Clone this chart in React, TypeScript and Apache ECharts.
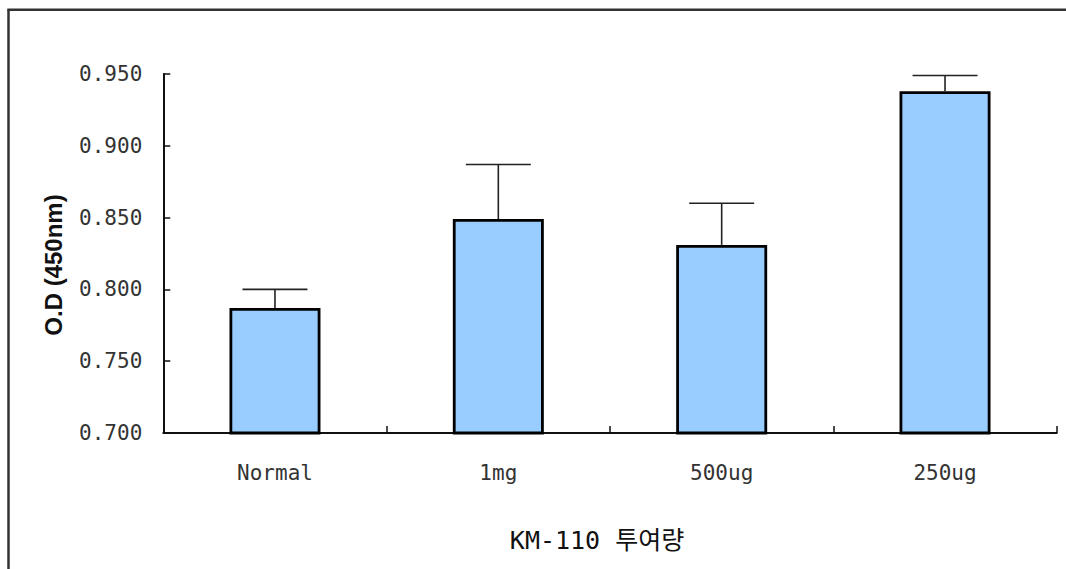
import React, { useEffect, useRef } from "react";
import * as echarts from "echarts";

const categories = ["Normal", "1mg", "500ug", "250ug"];
const means = [0.787, 0.849, 0.831, 0.938];
const errors = [0.013, 0.038, 0.029, 0.011];
const yMin = 0.7;
const yMax = 0.95;
const yStep = 0.05;
const xTitle = "KM-110 투여량";
const yTitle = "O.D (450nm)";

export default function App() {
  const ref = useRef<HTMLDivElement>(null);
  useEffect(() => {
    if (!ref.current) return;
    const chart = echarts.init(ref.current, undefined, { renderer: "svg" });
    const mono = "'DejaVu Sans Mono', 'Liberation Mono', monospace";
    const errData = means.map((m, i) => [i, m, m + errors[i]]);
    chart.setOption({
      animation: false,
      backgroundColor: "#ffffff",
      grid: { left: 163.3, right: 9.3, top: 74, bottom: 136, containLabel: false },
      xAxis: {
        type: "category",
        data: categories,
        boundaryGap: true,
        axisLine: { show: true, lineStyle: { color: "#111", width: 2 } },
        axisTick: { show: true, inside: true, length: 7, lineStyle: { color: "#111", width: 1.5 } },
        axisLabel: { color: "#333", fontFamily: mono, fontSize: 21, margin: 29 },
        splitLine: { show: false },
      },
      yAxis: {
        type: "value",
        min: yMin,
        max: yMax,
        interval: yStep,
        axisLine: { show: true, lineStyle: { color: "#111", width: 2 } },
        axisTick: { show: true, inside: true, length: 7, lineStyle: { color: "#111", width: 1.5 } },
        axisLabel: {
          color: "#333",
          fontFamily: mono,
          fontSize: 21,
          margin: 21,
          padding: [12, 0, 0, 0],
          formatter: (v: number) => v.toFixed(3),
        },
        splitLine: { show: false },
      },
      series: [
        {
          type: "bar",
          data: means,
          barWidth: 91,
          itemStyle: { color: "#99CCFF", borderColor: "#000", borderWidth: 2.8 },
          z: 2,
        },
        {
          type: "custom",
          data: errData,
          z: 3,
          renderItem: (params: any, api: any) => {
            const base = api.coord([api.value(0), api.value(1)]);
            const top = api.coord([api.value(0), api.value(2)]);
            const half = 32.5;
            const style = { stroke: "#222", lineWidth: 1.6 };
            return {
              type: "group",
              children: [
                { type: "line", shape: { x1: base[0], y1: base[1], x2: top[0], y2: top[1] }, style },
                { type: "line", shape: { x1: top[0] - half, y1: top[1], x2: top[0] + half, y2: top[1] }, style },
              ],
            };
          },
        },
      ],
      graphic: [
        { type: "line", shape: { x1: 8.5, y1: 9.7, x2: 8.5, y2: 569 }, style: { stroke: "#333", lineWidth: 2.5 } },
        { type: "line", shape: { x1: 7.3, y1: 9.7, x2: 1066, y2: 9.7 }, style: { stroke: "#333", lineWidth: 2.5 } },
        {
          type: "text",
          x: 53,
          y: 265,
          rotation: Math.PI / 2,
          style: {
            text: yTitle,
            fontFamily: "'Liberation Sans', Arial, sans-serif",
            fontWeight: "bold",
            fontSize: 24,
            fill: "#111",
            align: "center",
            verticalAlign: "middle",
          },
        },
        {
          type: "text",
          x: 597,
          y: 540,
          style: {
            text: xTitle,
            fontFamily: "'DejaVu Sans Mono', 'Noto Sans CJK KR', monospace",
            fontSize: 25,
            fill: "#111",
            align: "center",
            verticalAlign: "middle",
          },
        },
      ],
    });
    return () => chart.dispose();
  }, []);
  return (
    <div
      ref={ref}
      style={{ position: "fixed", left: 0, top: 0, width: 1066, height: 569, background: "#fff" }}
    />
  );
}
